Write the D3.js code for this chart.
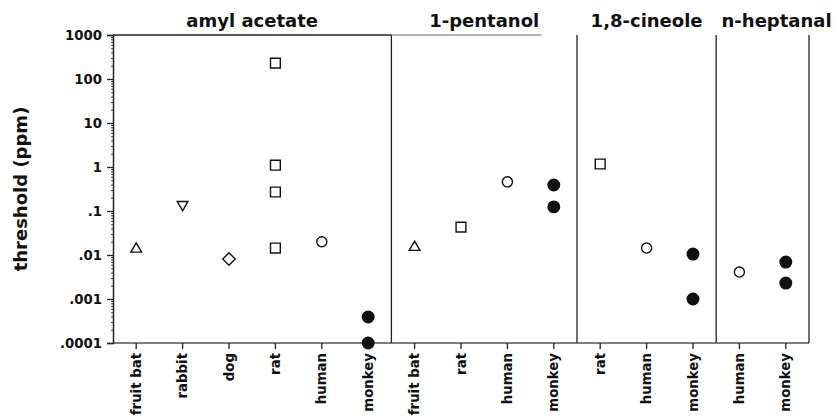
<!DOCTYPE html>
<html>
<head>
<meta charset="utf-8">
<script src="https://cdn.jsdelivr.net/npm/d3@7"></script>
<style>
  body { margin: 0; background: #fff; }
  text { font-family: "DejaVu Sans", sans-serif; font-weight: bold; fill: #111; }
</style>
</head>
<body>
<div id="chart"></div>
<script>
// panels (odorants) and the species on each
var panels = ["amyl acetate", "1-pentanol", "1,8-cineole", "n-heptanal"];
var speciesByPanel = [
    ["fruit bat", "rabbit", "dog", "rat", "human", "monkey"],
    ["fruit bat", "rat", "human", "monkey"],
    ["rat", "human", "monkey"],
    ["human", "monkey"]
];

// threshold values (ppm), one array per panel: [species, value]
var amylAcetate = [
    ["fruit bat", 0.0137], ["rabbit", 0.14], ["dog", 0.0081],
    ["rat", 230], ["rat", 1.1], ["rat", 0.27], ["rat", 0.0144],
    ["human", 0.02], ["monkey", 0.00039], ["monkey", 0.0001]
];
var pentanol = [
    ["fruit bat", 0.015], ["rat", 0.043], ["human", 0.46],
    ["monkey", 0.39], ["monkey", 0.124]
];
var cineole = [
    ["rat", 1.17], ["human", 0.0144], ["monkey", 0.0105], ["monkey", 0.001]
];
var heptanal = [
    ["human", 0.0041], ["monkey", 0.0069], ["monkey", 0.0023]
];
var panelData = [amylAcetate, pentanol, cineole, heptanal];

var yTicks = [1000, 100, 10, 1, 0.1, 0.01, 0.001, 0.0001];
var yTickLabels = ["1000", "100", "10", "1", ".1", ".01", ".001", ".0001"];

// marker per species
var markerShape = {
    "fruit bat": "triangleUp", "rabbit": "triangleDown", "dog": "diamond",
    "rat": "square", "human": "circle", "monkey": "dot"
};

var svgWidth = 839;
var svgHeight = 419;
var margin = { top: 35, right: 30, bottom: 76, left: 113 };
var width = svgWidth - margin.left - margin.right;
var height = svgHeight - margin.top - margin.bottom;

var svg = d3.select("#chart")
    .append("svg")
    .attr("width", svgWidth)
    .attr("height", svgHeight);

var chartGroup = svg.append("g")
    .attr("transform", `translate(${margin.left}, ${margin.top})`);

// one band per (panel, species)
var keys = [];
speciesByPanel.forEach(function (list, p) {
    list.forEach(function (s) { keys.push(p + "|" + s); });
});

var xScale = d3.scaleBand()
    .domain(keys)
    .range([0, width])
    .padding(0);

var yScale = d3.scaleLog()
    .domain([0.0001, 1000])
    .range([height, 0]);

function xCenter(p, s) {
    return xScale(p + "|" + s) + xScale.bandwidth() / 2;
}
function panelLeft(p) { return xScale(p + "|" + speciesByPanel[p][0]); }
function panelRight(p) {
    var list = speciesByPanel[p];
    return xScale(p + "|" + list[list.length - 1]) + xScale.bandwidth();
}

// frame
var lineColor = "#222";
chartGroup.append("line")
    .attr("x1", 0).attr("x2", panelRight(0))
    .attr("y1", 0).attr("y2", 0)
    .attr("stroke", lineColor).attr("stroke-width", 1.3);
chartGroup.append("line")
    .attr("x1", panelLeft(1)).attr("x2", panelLeft(1) + 150)
    .attr("y1", 0).attr("y2", 0)
    .attr("stroke", "#666").attr("stroke-width", 1);
chartGroup.append("line")
    .attr("x1", 0).attr("x2", width)
    .attr("y1", height).attr("y2", height)
    .attr("stroke", "#555").attr("stroke-width", 1.3);
panels.forEach(function (name, p) {
    chartGroup.append("line")
        .attr("x1", panelRight(p)).attr("x2", panelRight(p))
        .attr("y1", 0).attr("y2", height)
        .attr("stroke", lineColor).attr("stroke-width", 1.3);
});

// y axis with minor ticks
var minorTicks = yScale.ticks().filter(function (t) { return yTicks.indexOf(t) < 0; });
chartGroup.append("g")
    .call(d3.axisLeft(yScale).tickValues(minorTicks).tickSize(2).tickFormat(""))
    .call(function (g) { g.select(".domain").remove(); })
    .selectAll("line").attr("stroke", "#444");

var leftAxis = d3.axisLeft(yScale)
    .tickValues(yTicks)
    .tickSize(6)
    .tickPadding(5)
    .tickFormat(function (d, i) { return yTickLabels[i]; });

var yAxisG = chartGroup.append("g").call(leftAxis);
yAxisG.select(".domain").attr("stroke", lineColor).attr("stroke-width", 1.5);
yAxisG.selectAll("line").attr("stroke", lineColor).attr("stroke-width", 1.3);
yAxisG.selectAll("text")
    .style("font-family", "'DejaVu Sans', sans-serif")
    .style("font-weight", "bold")
    .attr("font-size", "13.3px")
    .attr("fill", "#111");

// x axis: species ticks with rotated labels
var bottomAxis = d3.axisBottom(xScale)
    .tickSize(6)
    .tickFormat(function (d) { return d.split("|")[1]; });

var xAxisG = chartGroup.append("g")
    .attr("transform", `translate(0, ${height})`)
    .call(bottomAxis);
xAxisG.select(".domain").remove();
xAxisG.selectAll("line").attr("stroke", lineColor).attr("stroke-width", 1.3);
xAxisG.selectAll("text")
    .style("font-family", "'DejaVu Sans', sans-serif")
    .style("font-weight", "bold")
    .attr("font-size", "13.3px")
    .attr("fill", "#111")
    .attr("text-anchor", "end")
    .attr("transform", "rotate(-90)")
    .attr("x", -10)
    .attr("y", 0)
    .attr("dy", "0.35em");

// panel titles
var titleShift = [0, 0, 0, 14];
chartGroup.selectAll(".panel-title")
    .data(panels)
    .enter()
    .append("text")
    .attr("class", "panel-title")
    .attr("x", function (d, p) { return (panelLeft(p) + panelRight(p)) / 2 + titleShift[p]; })
    .attr("y", -8)
    .attr("text-anchor", "middle")
    .attr("font-size", "18px")
    .text(function (d) { return d; });

// y axis title
chartGroup.append("text")
    .attr("transform", `translate(${-margin.left + 27}, ${height / 2}) rotate(-90)`)
    .attr("text-anchor", "middle")
    .attr("font-size", "18px")
    .text("threshold (ppm)");

// markers
var points = [];
panelData.forEach(function (arr, p) {
    arr.forEach(function (d) { points.push({ panel: p, species: d[0], value: d[1] }); });
});

function symbolPath(shape) {
    if (shape === "square") return d3.symbol(d3.symbolSquare, 96)();
    if (shape === "diamond") return d3.symbol(d3.symbolSquare, 78)();
    if (shape === "circle") return d3.symbol(d3.symbolCircle, 80)();
    if (shape === "dot") return d3.symbol(d3.symbolCircle, 105)();
    return d3.symbol(d3.symbolTriangle, 50)();
}

chartGroup.selectAll(".marker")
    .data(points)
    .enter()
    .append("path")
    .attr("class", "marker")
    .attr("d", function (d) { return symbolPath(markerShape[d.species]); })
    .attr("transform", function (d) {
        var shape = markerShape[d.species];
        var rot = shape === "triangleDown" ? 180 : (shape === "diamond" ? 45 : 0);
        return `translate(${xCenter(d.panel, d.species)}, ${yScale(d.value)}) rotate(${rot})`;
    })
    .attr("fill", function (d) { return markerShape[d.species] === "dot" ? "#111" : "#fff"; })
    .attr("stroke", "#111")
    .attr("stroke-width", 1.4);
</script>
</body>
</html>
